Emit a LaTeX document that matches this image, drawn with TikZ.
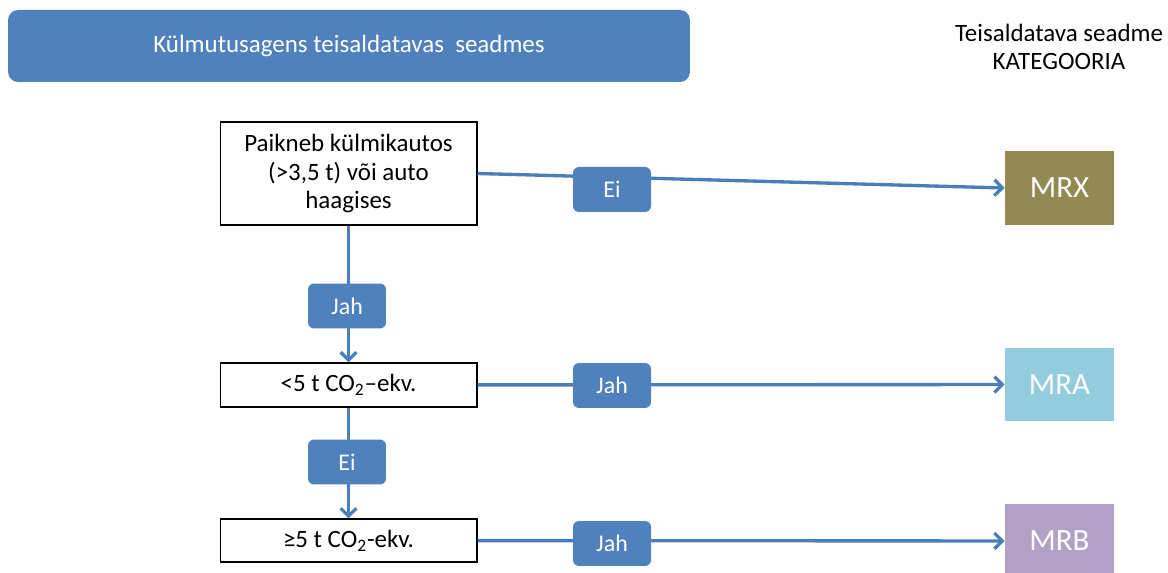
\documentclass[tikz,border=0pt]{standalone}
\usepackage{fontspec}
\setmainfont{Carlito}
\usetikzlibrary{positioning,arrows.meta}

\definecolor{lineblue}{HTML}{4A7EBB}
\definecolor{fillblue}{HTML}{4F81BD}
\definecolor{mrxcol}{HTML}{938953}
\definecolor{mracol}{HTML}{93CDDD}
\definecolor{mrbcol}{HTML}{B2A1C7}

\begin{document}
\begin{tikzpicture}[x=0.02cm, y=-0.02cm,
	question/.style={draw=black, line width=0.6pt, fill=white, minimum width=5.14cm, align=center, inner sep=0pt, font=\fontsize{14.2}{16.4}\selectfont},
	answer/.style={fill=fillblue, rounded corners=0.12cm, minimum width=1.56cm, minimum height=0.9cm, text=white, inner sep=0pt, font=\fontsize{13.6}{15}\selectfont},
	category/.style={minimum width=2.18cm, minimum height=1.48cm, text=white, inner sep=0pt, font=\fontsize{17.6}{20}\selectfont},
	flow/.style={draw=lineblue, line width=1.9pt, -{Straight Barb[length=4.5pt,width=9pt]}}]
	\useasboundingbox (0,0) rectangle (1168,573);

	% Instances:
	\node[fill=fillblue, rounded corners=0.2cm, minimum width=13.64cm, minimum height=1.44cm, text=white, font=\fontsize{14.2}{16}\selectfont] (title) at (349,46) {Külmutusagens teisaldatavas\ \ seadmes};
	\node[align=center, font=\fontsize{14.2}{16.4}\selectfont] (header) at (1059,47) {Teisaldatava seadme\\KATEGOORIA};

	\node[question, minimum height=2.06cm] (auto) at (348.5,173.5) {Paikneb külmikautos\\(>3,5 t) või auto\\haagises};
	\node[question, minimum height=0.88cm] (less) at (348.5,385) {<5 t CO\textsubscript{2}–ekv.};
	\node[question, minimum height=0.86cm] (more) at (348.5,540.5) {≥5 t CO\textsubscript{2}-ekv.};

	\node[category, fill=mrxcol] (mrx) at (1059.5,188) {MRX};
	\node[category, fill=mracol] (mra) at (1059.5,384.5) {MRA};
	\node[category, fill=mrbcol] (mrb) at (1059.5,541) {MRB};

	% Lines:
	\draw[flow] (auto) -- (less);
	\draw[flow] (less) -- (more);
	\draw[flow] (auto.east) -- (mrx.west);
	\draw[flow] (less) -- (mra);
	\draw[flow] (more) -- (mrb);

	% Labels
	\node[answer] (autojah) at (347,306) {Jah};
	\node[answer] (lessei) at (347,462) {Ei};
	\node[answer] (autoei) at (612,189.5) {Ei};
	\node[answer] (lessjah) at (612,385.5) {Jah};
	\node[answer] (morejah) at (612,543.5) {Jah};

\end{tikzpicture}
\end{document}
